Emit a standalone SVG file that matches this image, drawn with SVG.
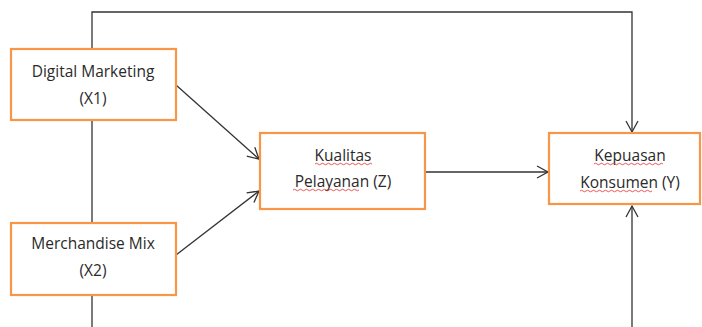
<svg xmlns="http://www.w3.org/2000/svg" width="702" height="327" viewBox="0 0 702 327">
<defs>
<marker id="arr" markerWidth="14" markerHeight="14" refX="12" refY="7" orient="auto" markerUnits="userSpaceOnUse">
<path d="M1,1 L12,7 L1,13" fill="none" stroke="#333" stroke-width="1.3"/>
</marker>
<style>
.box{fill:#fff;stroke:#F79646;stroke-width:2.2}
.ln{fill:none;stroke:#333;stroke-width:1.3}
.t{font-family:"Open Sans","Liberation Sans",sans-serif;font-size:15.5px;fill:#2a2a2a;text-anchor:middle}
.sq{fill:none;stroke:#e03030;stroke-width:0.8}
</style>
</defs>
<g id="connectors">
<path class="ln" d="M92,49 V12 H632 V132" marker-end="url(#arr)"/>
<path class="ln" d="M92,120 V223"/>
<path class="ln" d="M92,295 V327"/>
<path class="ln" d="M176,85 L259,159" marker-end="url(#arr)"/>
<path class="ln" d="M176,255 L259,191" marker-end="url(#arr)"/>
<path class="ln" d="M425,172 L548,172" marker-end="url(#arr)"/>
<path class="ln" d="M632,327 V206" marker-end="url(#arr)"/>
</g>
<g id="x1">
<rect class="box" x="11" y="49" width="165" height="71"/>
<text class="t" x="93" y="77">Digital Marketing</text>
<text class="t" x="93" y="104">(X1)</text>
</g>
<g id="x2">
<rect class="box" x="11" y="223" width="165" height="72"/>
<text class="t" x="93" y="249">Merchandise Mix</text>
<text class="t" x="93" y="276">(X2)</text>
</g>
<g id="z">
<rect class="box" x="260" y="133" width="165" height="76"/>
<text class="t" x="343" y="161">Kualitas</text>
<text class="t" x="343" y="187">Pelayanan (Z)</text>
<path class="sq" d="M315,164 q1.5,-1.5 3,0 t3,0 t3,0 t3,0 t3,0 t3,0 t3,0 t3,0 t3,0 t3,0 t3,0 t3,0 t3,0 t3,0 t3,0 t3,0 t3,0 t3,0 t3,0"/>
<path class="sq" d="M293,190 q1.5,-1.5 3,0 t3,0 t3,0 t3,0 t3,0 t3,0 t3,0 t3,0 t3,0 t3,0 t3,0 t3,0 t3,0 t3,0 t3,0 t3,0 t3,0 t3,0 t3,0 t3,0 t3,0 t3,0"/>
</g>
<g id="y">
<rect class="box" x="549" y="133" width="151" height="71"/>
<text class="t" x="630" y="161">Kepuasan</text>
<text class="t" x="630" y="188">Konsumen (Y)</text>
<path class="sq" d="M594,164 q1.5,-1.5 3,0 t3,0 t3,0 t3,0 t3,0 t3,0 t3,0 t3,0 t3,0 t3,0 t3,0 t3,0 t3,0 t3,0 t3,0 t3,0 t3,0 t3,0 t3,0 t3,0 t3,0 t3,0 t3,0"/>
<path class="sq" d="M580,191 q1.5,-1.5 3,0 t3,0 t3,0 t3,0 t3,0 t3,0 t3,0 t3,0 t3,0 t3,0 t3,0 t3,0 t3,0 t3,0 t3,0 t3,0 t3,0 t3,0 t3,0 t3,0 t3,0 t3,0 t3,0 t3,0"/>
</g>
</svg>
